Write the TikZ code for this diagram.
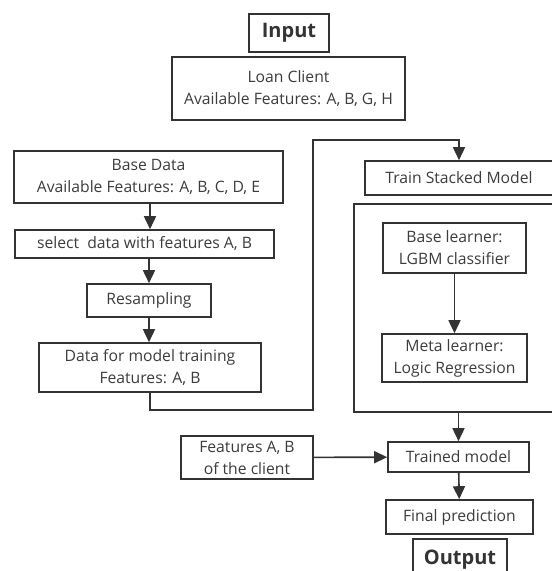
\documentclass[tikz,border=0pt]{standalone}
\usepackage{fontspec}
\setmainfont{Open Sans}
\usepackage{tikz}
\usetikzlibrary{arrows.meta,calc}

\definecolor{inkgray}{HTML}{333333}
\definecolor{txtgray}{HTML}{3C3C3C}
\tikzset{
  blk/.style={draw=inkgray, line width=1.6pt, text=txtgray, align=center,
    inner sep=1pt, font=\fontsize{15.7}{22}\selectfont},
  ttl/.style={blk, text=inkgray, font=\fontsize{20}{24}\selectfont\bfseries},
  arr/.style={draw=inkgray, line width=1.6pt, -{Triangle[length=13pt,width=12pt]}},
  ln/.style={draw=inkgray, line width=1.6pt}
}

\begin{document}
\begin{tikzpicture}[x=1pt,y=-1pt]
            \useasboundingbox (0,0) rectangle (552,571);
            \clip (0,0) rectangle (552,571);

            \node[ttl, minimum width=80pt, minimum height=38pt] (input) at (289,33) {Input};
            \node[blk, minimum width=233pt, minimum height=63pt] (client) at (288.5,88.5)
               {Loan Client\\Available Features: A, B, G, H};

            \node[blk, minimum width=269pt, minimum height=52pt] (basedata) at (148.5,177)
               {Base Data\\Available Features: A, B, C, D, E};
            \node[blk, minimum width=259pt, minimum height=28pt] (select) at (144.5,244)
               {select\ \ data with features A, B};
            \node[blk, minimum width=124pt, minimum height=33pt] (resamp) at (149,300.5) {Resampling};
            \node[blk, minimum width=222pt, minimum height=49pt] (traindata) at (150,367.5)
               {Data for model training\\Features: A, B};

            \node[blk, minimum width=188pt, minimum height=34pt] (stacked) at (459,178) {Train Stacked Model};
            \node[blk, minimum width=206pt, minimum height=208pt] (ensemble) at (457,308) {};
            \node[blk, minimum width=143pt, minimum height=50pt] (baselrn) at (454.5,248)
               {Base learner:\\LGBM classifier};
            \node[blk, minimum width=145pt, minimum height=48pt] (metalrn) at (454.5,358)
               {Meta learner:\\Logic Regression};

            \node[blk, minimum width=132pt, minimum height=43pt] (features) at (247,457.5)
               {Features A, B\\of the client};
            \node[blk, minimum width=141pt, minimum height=30pt] (trained) at (458.5,457) {Trained model};
            \node[blk, minimum width=147pt, minimum height=34pt] (final) at (459.5,517) {Final prediction};
            \node[ttl, minimum width=94pt, minimum height=42pt] (output) at (460,560) {Output};

            \coordinate (bendtop) at (313,140);

            \draw[arr] (basedata.south -| 150,0) -- (select.north -| 150,0);
            \draw[arr] (select.south -| 149,0) -- (resamp.north -| 149,0);
            \draw[arr] (resamp.south -| 149,0) -- (traindata.north -| 149,0);
            \draw[arr] (traindata.south) -- ++(0,17) -| (bendtop) -| (stacked.north);
            \draw[arr] (baselrn) -- (metalrn);
            \draw[arr] (ensemble.south -| trained.north) -- (trained.north);
            \draw[arr] (features) -- (trained);
            \draw[arr] (trained) -- (final);
\end{tikzpicture}
\end{document}
